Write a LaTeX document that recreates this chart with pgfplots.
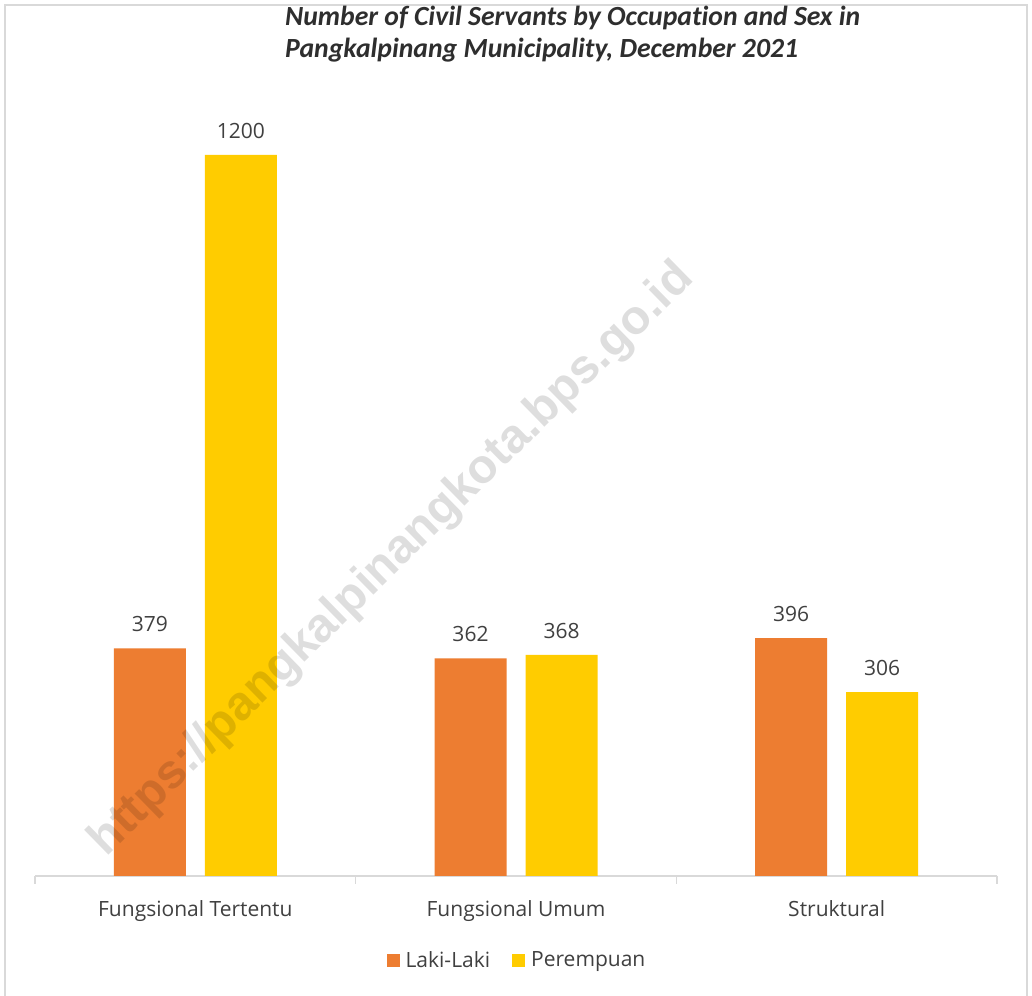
\documentclass[border=0pt]{standalone}
\usepackage{pgfplots}
\pgfplotsset{compat=1.18}
\usepackage{fontspec}
\setmainfont{Open Sans}
\newfontfamily\titlefont[Ligatures=NoCommon]{Carlito}
\newfontfamily\wmfont{Liberation Sans}
\definecolor{orng}{HTML}{ED7D31}
\definecolor{yel}{HTML}{FFCC00}
\definecolor{lbl}{HTML}{404040}
\definecolor{axgray}{HTML}{D9D9D9}
\begin{document}
\begin{tikzpicture}[x=1bp,y=1bp]
\path[use as bounding box] (0,0) rectangle (1032,996);
\fill[white] (0,0) rectangle (1032,996);
\draw[axgray, line width=2bp] (5,-2) -- (5,991) -- (1027,991) -- (1027,-2);
\begin{axis}[at={(35bp,120bp)}, anchor=south west, scale only axis,
  width=962bp, height=841.2bp,
  xmin=-0.5, xmax=2.5, ymin=0, ymax=1400,
  axis x line*=bottom, axis y line=none,
  x axis line style={-, axgray, line width=1.3bp},
  ybar=19bp, bar width=72bp,
  xtick={0,1,2}, xticklabels={Fungsional Tertentu, Fungsional Umum, Struktural},
  major tick length=0pt,
  extra x ticks={-0.5,0.5,1.5,2.5}, extra x tick labels={},
  extra x tick style={major tick length=8bp, tick align=outside, tick style={axgray, line width=1.3bp}},
  xticklabel style={font=\fontsize{21bp}{25bp}\selectfont, text=lbl, yshift=-21bp},
  nodes near coords,
  /pgf/number format/assume math mode=true,
  /pgf/number format/1000 sep={},
  nodes near coords style={font=\fontsize{21bp}{25bp}\selectfont, text=lbl, yshift=13bp,
    /pgf/number format/assume math mode=true, /pgf/number format/1000 sep={}},
  legend columns=2,
  legend style={at={(0.501,-0.1)}, anchor=center, draw=none, fill=none,
    font=\fontsize{21bp}{25bp}\selectfont, text=lbl,
    /tikz/every even column/.append style={column sep=20bp}},
  legend image code/.code={\draw[#1, draw=none] (0bp,-6.5bp) rectangle (13bp,6.5bp); \path (17bp,0bp);},
]
\addplot[fill=orng, draw=none] coordinates {(0,379) (1,362) (2,396)};
\addlegendentry{Laki-Laki}
\addplot[fill=yel, draw=none] coordinates {(0,1200) (1,368) (2,306)};
\addlegendentry{Perempuan}
\end{axis}
\node[anchor=north west, inner sep=0pt, align=left, text=black!82,
  font=\titlefont\bfseries\itshape\fontsize{27.7bp}{32bp}\selectfont]
  at (285,990) {Number of Civil Servants by Occupation and Sex in\\Pangkalpinang Municipality, December 2021};
\node[rotate=44.4, text=black, opacity=0.13, font=\wmfont\bfseries\fontsize{48bp}{48bp}\selectfont]
  at (392,436) {https://pangkalpinangkota.bps.go.id};
\end{tikzpicture}
\end{document}
